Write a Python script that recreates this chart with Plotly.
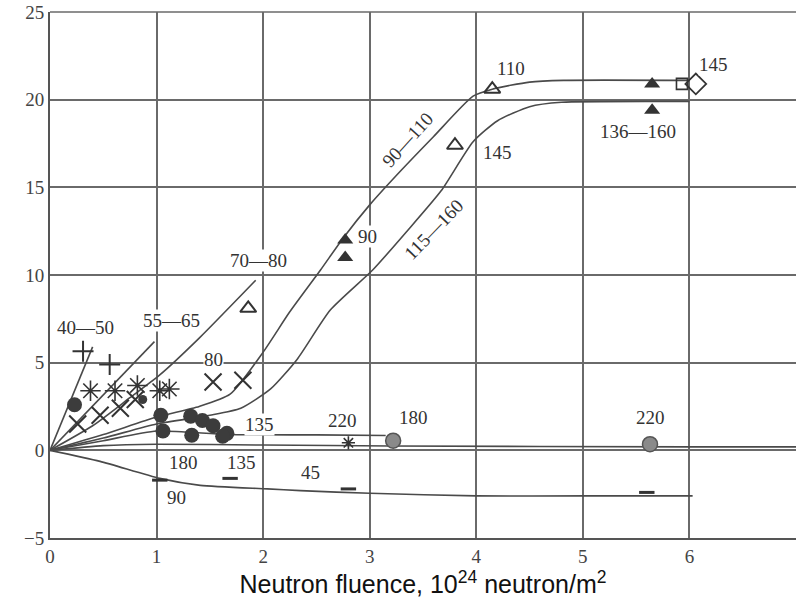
import plotly.graph_objects as go

# ---- curve data (fluence, swelling %) ----
c_40_50_x = [0, 0.40]
c_40_50_y = [0, 5.9]
c_55_65_x = [0, 0.98]
c_55_65_y = [0, 6.2]
c_70_80_x = [0, 0.40, 0.75, 1.03, 1.40, 1.93]
c_70_80_y = [0, 1.4, 3.0, 4.3, 6.4, 9.7]
c_90_110_x = [0, 0.5, 1.0, 1.40, 1.69, 2.0, 2.25, 2.54, 2.75, 3.0, 3.3, 3.6, 3.97, 4.15, 4.5, 4.82, 6.0]
c_90_110_y = [0, 0.9, 1.9, 2.5, 3.2, 5.6, 7.9, 10.3, 12.1, 14.0, 16.0, 17.9, 20.2, 20.6, 21.0, 21.1, 21.1]
c_115_160_x = [0, 0.5, 1.0, 1.5, 1.79, 2.07, 2.32, 2.63, 3.03, 3.35, 3.67, 3.97, 4.2, 4.5, 4.8, 6.0]
c_115_160_y = [0, 0.7, 1.5, 2.0, 2.4, 3.5, 5.2, 8.0, 10.3, 12.5, 14.8, 17.6, 18.8, 19.6, 19.85, 19.9]
c_135_x = [0, 0.5, 1.0, 1.66, 2.5, 3.15]
c_135_y = [0, 0.55, 1.1, 0.9, 0.88, 0.85]
c_220_x = [0, 0.5, 1.0, 2.0, 3.2, 6.0, 7.0]
c_220_y = [0, 0.27, 0.35, 0.3, 0.25, 0.2, 0.2]
c_45_90_x = [0, 0.47, 1.03, 1.41, 2.04, 2.35, 3.0, 4.0, 5.05, 6.03]
c_45_90_y = [0, -0.63, -1.6, -2.0, -2.2, -2.3, -2.45, -2.6, -2.6, -2.6]

# ---- measured points ----
plus_x = [0.31, 0.56]
plus_y = [5.65, 4.9]
star_x = [0.38, 0.61, 0.82, 1.03, 1.12]
star_y = [3.4, 3.4, 3.7, 3.4, 3.5]
cross_x = [0.26, 0.47, 0.66, 0.80, 1.53, 1.81]
cross_y = [1.5, 2.0, 2.4, 2.9, 3.9, 4.0]
dot_x = [0.23, 1.04, 1.06, 1.32, 1.33, 1.43, 1.53, 1.66, 1.62]
dot_y = [2.6, 2.0, 1.1, 1.95, 0.86, 1.7, 1.4, 0.97, 0.8]
small_dot_x = [0.87]
small_dot_y = [2.9]
grey_dot_x = [3.22, 5.63]
grey_dot_y = [0.55, 0.35]
star220_x = [2.8]
star220_y = [0.43]
tri_open_x = [1.86, 3.80, 4.15]
tri_open_y = [8.1, 17.4, 20.6]
tri_fill_x = [2.77, 2.77, 5.65, 5.65]
tri_fill_y = [12.0, 11.0, 20.9, 19.4]
square_x = [5.93]
square_y = [20.9]
diamond_x = [6.06]
diamond_y = [20.9]
dash_x = [1.03, 1.69, 2.80, 5.60]
dash_y = [-1.7, -1.6, -2.2, -2.4]

# ---- curve / point labels ----
lab_text = ["40—50", "55—65", "70—80", "80", "90", "110", "145", "136—160", "145",
            "135", "220", "180", "220", "180", "135", "90", "45"]
lab_x = [0.33, 1.14, 1.96, 1.53, 2.98, 4.33, 6.23, 5.52, 4.20,
         1.97, 2.74, 3.41, 5.63, 1.25, 1.80, 1.19, 2.44]
lab_y = [7.0, 7.4, 10.8, 5.2, 12.2, 21.8, 22.0, 18.2, 17.0,
         1.5, 1.7, 1.85, 1.85, -0.7, -0.7, -2.7, -1.25]
rot_text = ["90—110", "115—160"]
rot_x = [3.36, 3.60]
rot_y = [17.7, 12.6]
rot_angle = [-48, -46]

x_ticks = [0, 1, 2, 3, 4, 5, 6, 7]
y_ticks = [-5, 0, 5, 10, 15, 20, 25]
y_tick_text = ["−5", "0", "5", "10", "15", "20", "25"]

LINE = "#4a4a4a"
INK = "#333333"
fig = go.Figure()

for cx, cy in [(c_40_50_x, c_40_50_y), (c_55_65_x, c_55_65_y), (c_70_80_x, c_70_80_y),
               (c_90_110_x, c_90_110_y), (c_115_160_x, c_115_160_y), (c_135_x, c_135_y),
               (c_220_x, c_220_y), (c_45_90_x, c_45_90_y)]:
    fig.add_trace(go.Scatter(x=cx, y=cy, mode="lines", line=dict(color=LINE, width=1.6, shape="spline", smoothing=0.6),
                             showlegend=False, hoverinfo="skip"))

def pts(x, y, symbol, size, color=INK, lw=1.8, fill=None):
    fig.add_trace(go.Scatter(
        x=x, y=y, mode="markers", showlegend=False, hoverinfo="skip",
        marker=dict(symbol=symbol, size=size, color=fill if fill else color,
                    line=dict(color=color, width=lw))))

pts(plus_x, plus_y, "cross-thin-open", 15, lw=2)
pts(star_x, star_y, "asterisk-open", 17, lw=1.6)
pts(cross_x, cross_y, "x-thin-open", 17, lw=2)
pts(dot_x, dot_y, "circle", 15, color="#3c3c3c", lw=0, fill="#3c3c3c")
pts(small_dot_x, small_dot_y, "circle", 9, color="#3c3c3c", lw=0, fill="#3c3c3c")
pts(grey_dot_x, grey_dot_y, "circle", 15, color="#555555", lw=1.5, fill="#8a8a8a")
pts(star220_x, star220_y, "asterisk-open", 11, lw=1.6)
pts(tri_open_x, tri_open_y, "triangle-up-open", 14, lw=2)
pts(tri_fill_x, tri_fill_y, "triangle-up", 14, color="#333333", lw=0, fill="#333333")
pts(square_x, square_y, "square-open", 11, lw=1.6)
pts(diamond_x, diamond_y, "diamond-open", 16, lw=1.8)
pts(dash_x, dash_y, "line-ew-open", 11, lw=3)

for t, x, y in zip(lab_text, lab_x, lab_y):
    fig.add_annotation(x=x, y=y, text=t, showarrow=False, bgcolor="white", borderpad=0,
                       font=dict(family="Liberation Serif", size=19, color=INK))
for t, x, y, a in zip(rot_text, rot_x, rot_y, rot_angle):
    fig.add_annotation(x=x, y=y, text=t, showarrow=False, textangle=a,
                       font=dict(family="Liberation Serif", size=19, color=INK))

fig.update_layout(
    width=798, height=602,
    margin=dict(l=50, r=2, t=12, b=64),
    paper_bgcolor="white", plot_bgcolor="white",
    xaxis=dict(range=[0, 7], tickvals=x_ticks, showgrid=True, gridcolor="#6a6a6a", gridwidth=1.5,
               zeroline=False, showline=True, linecolor="#555555", linewidth=2, mirror=False,
               ticks="", tickfont=dict(family="Liberation Serif", size=19, color="#444444"),
               title=dict(text="Neutron fluence, 10<sup>24</sup> neutron/m<sup>2</sup>",
                          font=dict(family="Liberation Sans", size=25, color="#111111"), standoff=4)),
    yaxis=dict(range=[-5, 25], tickvals=y_ticks, ticktext=y_tick_text, showgrid=True,
               gridcolor="#6a6a6a", gridwidth=1.5, zeroline=False, showline=True,
               linecolor="#555555", linewidth=2, ticks="",
               tickfont=dict(family="Liberation Serif", size=19, color="#444444")),
)
fig.add_shape(type="line", xref="paper", yref="paper", x0=0, x1=1, y0=1, y1=1,
              line=dict(color="#6a6a6a", width=1.5))

fig.write_html("out.html")
